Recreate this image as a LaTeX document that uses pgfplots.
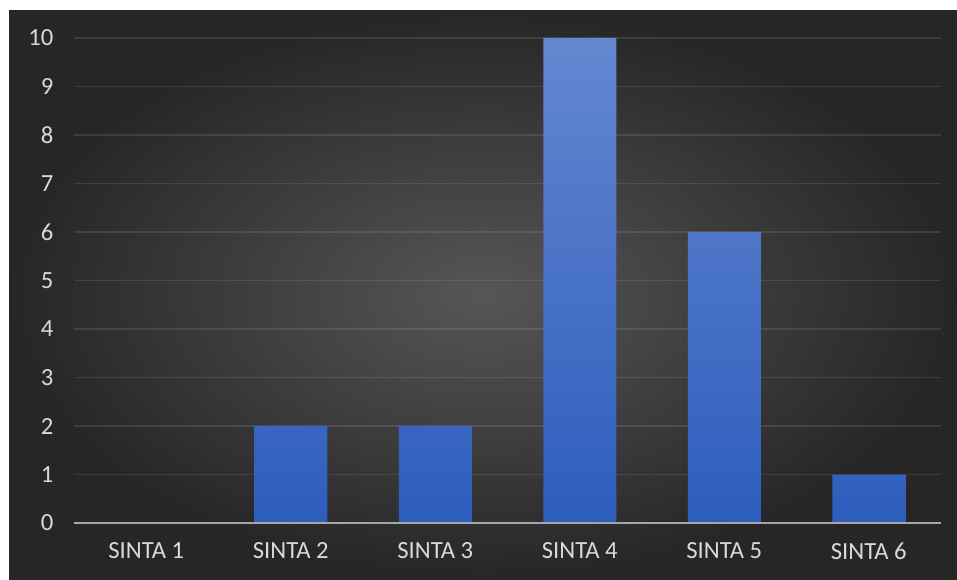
\documentclass[border=0pt]{standalone}
\usepackage{pgfplots}
\pgfplotsset{compat=1.18}
\usepackage{fontspec}
\setmainfont{Carlito}
\definecolor{bgin}{HTML}{565656}
\definecolor{bgout}{HTML}{262626}
\definecolor{bartop}{HTML}{6487D0}
\definecolor{barbot}{HTML}{2D5DBD}
\definecolor{lbl}{HTML}{D9D9D9}
\definecolor{zeroline}{HTML}{A6A6A6}
\begin{document}
\begin{tikzpicture}[x=0.75pt,y=0.75pt]
\useasboundingbox (0,0) rectangle (957,579);
\fill[white] (0,0) rectangle (957,579);
\shade[inner color=bgin, outer color=bgout] (9,0) rectangle (957,568);
\begin{axis}[
  at={(55.5pt,42pt)}, anchor=south west,
  scale only axis, width=650.25pt, height=363.75pt,
  xmin=-0.5, xmax=5.5, ymin=0, ymax=10,
  xtick={0,1,2,3,4,5},
  xticklabels={SINTA 1,SINTA 2,SINTA 3,SINTA 4,SINTA 5,SINTA 6},
  ytick={0,1,...,10},
  axis line style={draw=none},
  major tick length=0pt,
  ymajorgrids,
  grid style={white, opacity=0.1, line width=1.1pt},
  ticklabel style={font=\fontsize{18.5}{22}\selectfont, text=lbl},
  /pgf/number format/assume math mode=true,
  xticklabel style={yshift=-11pt},
  yticklabel style={xshift=-12pt},
  clip=false,
]
\addplot[ybar, bar width=54.75pt, draw=none, top color=bartop, bottom color=barbot]
  coordinates {(1,2) (2,2) (3,10) (4,6) (5,1)};
\addplot[zeroline, line width=1.5pt] coordinates {(-0.5,0) (5.5,0)};
\end{axis}
\end{tikzpicture}
\end{document}
